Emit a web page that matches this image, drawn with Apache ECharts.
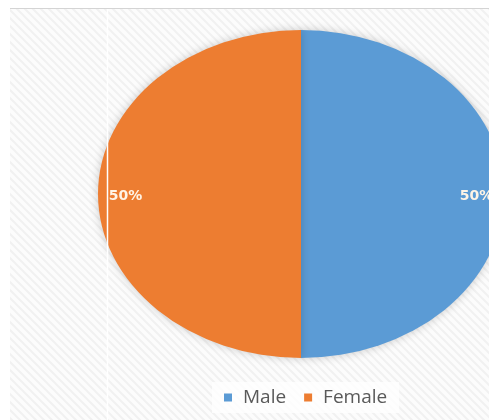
<!DOCTYPE html>
<html>
<head>
<meta charset="utf-8">
<script src="https://cdn.jsdelivr.net/npm/echarts@6/dist/echarts.min.js"></script>
<style>html,body{margin:0;padding:0;background:#fff}#c{width:489px;height:420px}</style>
</head>
<body>
<div id="c"></div>
<script>
var categories = ['Male', 'Female'];
var values = [50, 50];
var colors = ['#5B9BD5', '#ED7D31'];

var chart = echarts.init(document.getElementById('c'), null, {renderer: 'canvas'});

// hatched background pattern
var pc = document.createElement('canvas');
pc.width = 8; pc.height = 8;
var g = pc.getContext('2d');
g.fillStyle = '#fcfcfc'; g.fillRect(0, 0, 8, 8);
g.strokeStyle = '#f1f1f1'; g.lineWidth = 2;
g.beginPath();
g.moveTo(-2, -2); g.lineTo(10, 10);
g.moveTo(-6, 2); g.lineTo(6, 14);
g.moveTo(2, -6); g.lineTo(14, 6);
g.stroke();

var total = values.reduce(function (a, b) { return a + b; }, 0);
var CX = 301, CY = 194, RX = 203, RY = 164;

function makeSeries(idx) {
  return {
    type: 'custom',
    name: categories[idx],
    coordinateSystem: 'none',
    itemStyle: {color: colors[idx]},
    z: 2,
    data: [[values[idx]]],
    renderItem: function (params, api) {
      var before = 0;
      for (var i = 0; i < idx; i++) before += values[i];
      var v = api.value(0);
      var a0 = -Math.PI / 2 + before / total * Math.PI * 2;
      var a1 = a0 + v / total * Math.PI * 2;
      var mid = (a0 + a1) / 2;
      var pct = Math.round(v / total * 100) + '%';
      return {
        type: 'group',
        children: [{
          type: 'sector',
          x: CX, y: CY,
          scaleX: RX / RY, scaleY: 1,
          shape: {cx: 0, cy: 0, r0: 0, r: RY, startAngle: a0, endAngle: a1, clockwise: true},
          style: {fill: colors[idx], shadowBlur: 10, shadowColor: 'rgba(0,0,0,0.2)'}
        }, {
          type: 'text',
          x: CX + Math.cos(mid) * RX * 0.865,
          y: CY + 2 + Math.sin(mid) * RY * 0.865,
          style: {
            text: pct, fill: '#fff4e6', font: 'bold 14px "DejaVu Sans", sans-serif',
            align: 'center', verticalAlign: 'middle'
          }
        }]
      };
    }
  };
}

chart.setOption({
  animation: false,
  backgroundColor: '#ffffff',
  graphic: [
    {type: 'rect', z: 0, shape: {x: 10, y: 8, width: 479, height: 412}, style: {fill: {image: pc, repeat: 'repeat'}}},
    {type: 'line', z: 1, shape: {x1: 10, y1: 8.5, x2: 489, y2: 8.5}, style: {stroke: '#d4d4d4', lineWidth: 1}},
    {type: 'line', z: 100, shape: {x1: 107.5, y1: 9, x2: 107.5, y2: 420}, style: {stroke: '#ffffff', lineWidth: 1.5}}
  ],
  legend: {
    data: categories,
    top: 382,
    left: 212,
    icon: 'rect',
    itemWidth: 8,
    itemHeight: 8,
    itemGap: 18,
    padding: [6, 12],
    backgroundColor: 'rgba(255,255,255,0.75)',
    textStyle: {color: '#595959', fontSize: 19, fontFamily: 'Open Sans, sans-serif', padding: [0, 0, 0, 6]}
  },
  series: [makeSeries(0), makeSeries(1)]
});
</script>
</body>
</html>
